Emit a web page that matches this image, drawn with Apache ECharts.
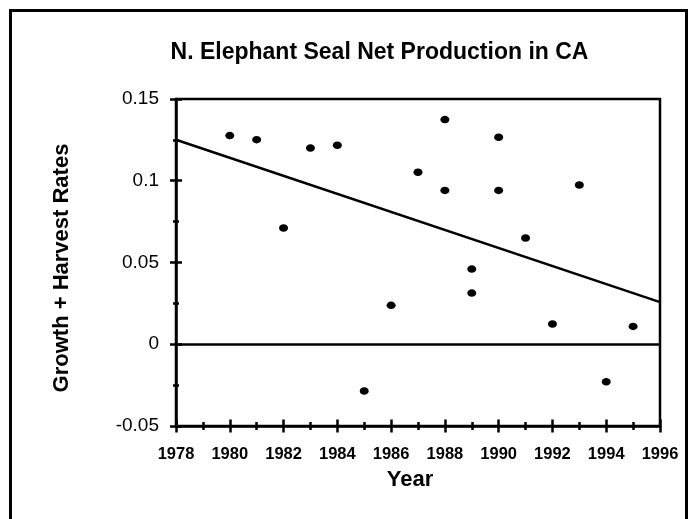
<!DOCTYPE html>
<html>
<head>
<meta charset="utf-8">
<script src="https://cdn.jsdelivr.net/npm/echarts@6/dist/echarts.min.js"></script>
<style>
html,body{margin:0;padding:0;background:#fff;}
#chart{width:695px;height:519px;}
</style>
</head>
<body>
<div id="chart"></div>
<script>
// Data
var years = [1980, 1981, 1982, 1983, 1984, 1985, 1986, 1987, 1988, 1988, 1989, 1989, 1990, 1990, 1991, 1992, 1993, 1994, 1995];
var rates = [0.1276, 0.1251, 0.0711, 0.1200, 0.1217, -0.0286, 0.0238, 0.1052, 0.1374, 0.0941, 0.0460, 0.0313, 0.1266, 0.0941, 0.0650, 0.0124, 0.0974, -0.0230, 0.0109];
var trendYears = [1978, 1996];
var trendRates = [0.1251, 0.0258];
var titleText = 'N. Elephant Seal Net Production in CA';
var xName = 'Year';
var yName = 'Growth + Harvest Rates';

var FONT = '"Liberation Sans", Arial, Helvetica, sans-serif';
var points = years.map(function (y, i) { return [y, rates[i]]; });
var trend = trendYears.map(function (y, i) { return [y, trendRates[i]]; });

var chart = echarts.init(document.getElementById('chart'), null, {renderer: 'canvas'});

function xAx(inside, main) {
  return {
    type: 'value', min: 1978, max: 1996, interval: 2, position: 'bottom',
    name: main ? xName : '', nameLocation: 'middle', nameGap: 43,
    nameTextStyle: {fontFamily: FONT, fontWeight: 'bold', fontSize: 22, color: '#000', padding: [0, 16, 0, 0]},
    axisLine: {show: main, onZero: false, lineStyle: {color: '#000', width: 2.5}},
    axisTick: {show: true, inside: inside, length: 6.5, lineStyle: {color: '#000', width: 2.5}},
    minorTick: {show: true, splitNumber: 2, length: 4, lineStyle: {color: '#000', width: 2.5}},
    axisLabel: {show: main, margin: 20, fontFamily: FONT, fontWeight: 'bold', fontSize: 16.5, color: '#000',
      formatter: function (v) { return String(v); }},
    splitLine: {show: false}, minorSplitLine: {show: false}
  };
}
function yAx(inside, main) {
  return {
    type: 'value', min: -0.05, max: 0.15, interval: 0.05, position: 'left',
    name: main ? yName : '', nameLocation: 'middle', nameGap: 103,
    nameTextStyle: {fontFamily: FONT, fontWeight: 'bold', fontSize: 22, color: '#000', padding: [0, 11, 0, 0]},
    axisLine: {show: main, onZero: false, lineStyle: {color: '#000', width: 2.5}},
    axisTick: {show: true, inside: inside, length: 6, lineStyle: {color: '#000', width: 2.5}},
    minorTick: {show: true, splitNumber: 2, length: 3, lineStyle: {color: '#000', width: 2.5}},
    axisLabel: {show: main, margin: 17, fontFamily: FONT, fontSize: 19, color: '#000'},
    splitLine: {show: false}, minorSplitLine: {show: false}
  };
}

chart.setOption({
  backgroundColor: '#fff',
  animation: false,
  title: {
    text: titleText, left: 374.5, top: 35.7, textAlign: 'center',
    textStyle: {fontFamily: FONT, fontWeight: 'bold', fontSize: 23, color: '#000'}
  },
  grid: {left: 176, top: 99, right: 35, bottom: 93, show: true, borderColor: '#000', borderWidth: 2.5, backgroundColor: 'transparent', containLabel: false},
  xAxis: [xAx(false, true), xAx(true, false)],
  yAxis: [yAx(false, true), yAx(true, false)],
  graphic: [{
    type: 'rect', silent: true, z: 0,
    shape: {x: 10.5, y: 10.5, width: 676, height: 540},
    style: {fill: 'none', stroke: '#000', lineWidth: 3}
  }],
  series: [
    {
      type: 'line', xAxisIndex: 0, yAxisIndex: 0, data: trend,
      showSymbol: false, symbol: 'none', silent: true,
      lineStyle: {color: '#000', width: 2.5},
      markLine: {
        silent: true, symbol: ['none', 'none'], label: {show: false},
        lineStyle: {color: '#000', width: 2.5, type: 'solid'},
        data: [{yAxis: 0}]
      }
    },
    {
      type: 'scatter', xAxisIndex: 0, yAxisIndex: 0, data: points,
      symbol: 'circle', symbolSize: [9, 7.5],
      itemStyle: {color: '#000', opacity: 1}
    }
  ]
});
</script>
</body>
</html>
